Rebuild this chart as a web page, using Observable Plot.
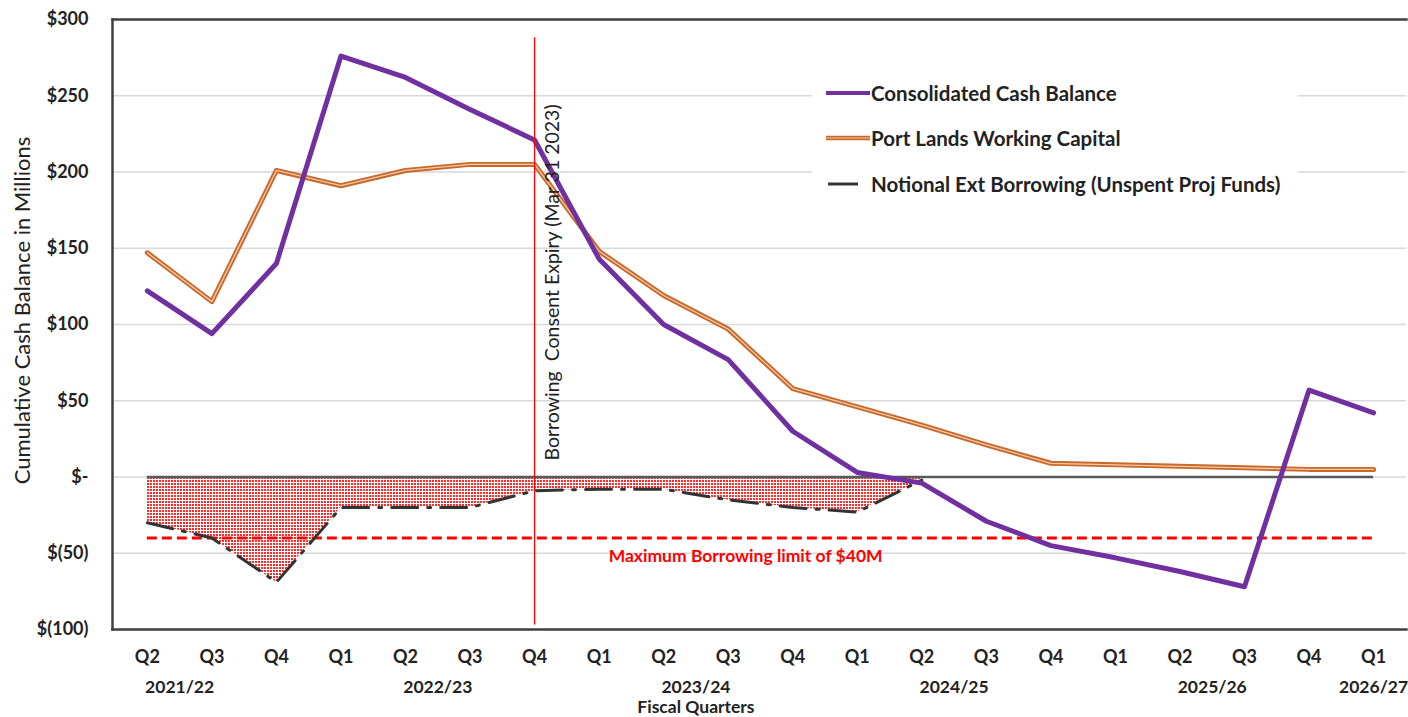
<!DOCTYPE html>
<html>
<head>
<meta charset="utf-8">
<script src="https://cdn.jsdelivr.net/npm/d3@7"></script>
<script src="https://cdn.jsdelivr.net/npm/@observablehq/plot@0.6"></script>
<style>
  html, body { margin: 0; padding: 0; background: #fff; }
  #wrap { position: relative; width: 1408px; height: 717px; font-family: Lato, "Noto Sans", sans-serif; }
  #wrap svg text { white-space: pre; }
  .legend { position: absolute; left: 812px; top: 72px; width: 486px; height: 130px; background: #fff; }
  .item { position: absolute; left: 0; height: 24px; display: flex; align-items: center; font-weight: bold; font-size: 20.5px; color: #222; white-space: nowrap; }
  .swatch { display: inline-block; margin-right: 1px; }
</style>
</head>
<body>
<div id="wrap"></div>
<script>
// ---- data ----
const quarters = ["Q2","Q3","Q4","Q1","Q2","Q3","Q4","Q1","Q2","Q3","Q4","Q1","Q2","Q3","Q4","Q1","Q2","Q3","Q4","Q1"];
const fiscalYears = ["2021/22","2021/22","2021/22",
  "2022/23","2022/23","2022/23","2022/23",
  "2023/24","2023/24","2023/24","2023/24",
  "2024/25","2024/25","2024/25","2024/25",
  "2025/26","2025/26","2025/26","2025/26",
  "2026/27"];
const consolidatedCash = [122, 94, 140, 276, 262, 241, 221, 143, 100, 77, 30, 3, -4, -29, -45, -53, -62, -72, 57, 42];
const portLandsCapital = [147, 115, 201, 191, 201, 205, 205, 148, 119, 97, 58, 46, 34, 21, 9, 8, 7, 6, 5, 5];
const notionalBorrowing = [-30, -40, -69, -20, -20, -20, -9, -8, -8, -15, -20, -23, -2];
const borrowingLimit = -40;
const consentExpiryQuarter = 6; // Q4 2022/23 (Mar 31 2023)
const yTicks = [-100, -50, 0, 50, 100, 150, 200, 250, 300];
const seriesNames = ["Consolidated Cash Balance", "Port Lands Working Capital", "Notional Ext Borrowing (Unspent Proj Funds)"];
const colors = {cash: "#7030A0", port: "#C8682A", portInner: "#F6C9A6", notional: "#333333", limit: "#FF0000"};

// ---- tables ----
const rows = quarters.map((q, i) => ({i, q, fy: fiscalYears[i], cash: consolidatedCash[i], port: portLandsCapital[i]}));
const notRows = notionalBorrowing.map((v, i) => ({i, v}));
const yearRows = [...new Set(fiscalYears)].map(fy => {
  const idx = rows.filter(r => r.fy === fy);
  const q2 = idx.find(r => r.q === "Q2"), q3 = idx.find(r => r.q === "Q3");
  const pos = (q2 && q3) ? (q2.i + q3.i) / 2 : d3.mean(idx, r => r.i);
  return {fy, pos};
});
const fmt = d => d === 0 ? "$-" : d < 0 ? `$(${-d})` : `$${d}`;

const chart = Plot.plot({
  width: 1408,
  height: 717,
  marginTop: 19,
  marginLeft: 112,
  marginRight: 2,
  marginBottom: 88,
  style: {fontFamily: "Lato, 'Noto Sans', sans-serif", fontSize: "16px", color: "#222", background: "#fff"},
  x: {type: "linear", domain: [-0.54, 19.51]},
  y: {domain: [-100, 300]},
  marks: [
    Plot.gridY(yTicks, {stroke: "#d9d9d9", strokeOpacity: 1, strokeWidth: 1.5}),
    Plot.areaY(notRows, {x: "i", y1: 0, y2: "v", fill: "url(#dots)"}),
    Plot.ruleY([0], {x1: 0, x2: quarters.length - 1, stroke: "#595959", strokeWidth: 2.5}),
    Plot.ruleY([borrowingLimit], {x1: 0, x2: quarters.length - 1, stroke: colors.limit, strokeWidth: 3, strokeDasharray: "10,5"}),
    Plot.line(notRows, {x: "i", y: "v", stroke: colors.notional, strokeWidth: 3, strokeDasharray: "26,10,3,10"}),
    Plot.line(rows, {x: "i", y: "port", stroke: colors.port, strokeWidth: 5}),
    Plot.line(rows, {x: "i", y: "port", stroke: colors.portInner, strokeWidth: 1.3}),
    Plot.line(rows, {x: "i", y: "cash", stroke: colors.cash, strokeWidth: 5}),
    Plot.ruleX([consentExpiryQuarter], {y1: -97, y2: 288, stroke: colors.limit, strokeWidth: 1.3}),
    Plot.text(["Borrowing  Consent Expiry (Mar 31 2023)"], {x: consentExpiryQuarter, y: 10.8, dx: 18, rotate: -90, textAnchor: "start", fontSize: 19.5, fill: "#222"}),
    Plot.text(["Maximum Borrowing limit of $40M"], {x: 9.27, y: -52, fill: colors.limit, fontWeight: "bold", fontSize: 17.5}),
    Plot.frame({anchor: "left", stroke: "#404040", strokeWidth: 2.5}),
    Plot.frame({anchor: "top", stroke: "#404040", strokeWidth: 2.5}),
    Plot.frame({anchor: "bottom", stroke: "#404040", strokeWidth: 2.5}),
    Plot.axisY(yTicks, {tickSize: 0, tickPadding: 24, tickFormat: fmt, fontWeight: "bold", fontSize: 18, label: null}),
    Plot.axisX(d3.range(quarters.length), {tickSize: 0, tickPadding: 21, tickFormat: i => quarters[i], fontWeight: "bold", fontSize: 18, label: null}),
    Plot.text(yearRows, {x: "pos", y: -100, dy: 58, text: "fy", fontWeight: "bold", fontSize: 17.5}),
    Plot.text(["Fiscal Quarters"], {x: yearRows.find(d => d.fy === "2023/24").pos, y: -100, dy: 78, fontWeight: "bold", fontSize: 17.5}),
    Plot.text(["Cumulative Cash Balance in Millions"], {frameAnchor: "left", dx: -90, dy: -14, rotate: -90, textAnchor: "middle", fontSize: 22})
  ]
});

// dotted pattern for the borrowing area
d3.select(chart).insert("defs", ":first-child").html(
  `<pattern id="dots" width="3" height="3" patternUnits="userSpaceOnUse">
     <rect width="3" height="3" fill="#fff"/>
     <rect x="0" y="0" width="2" height="2" fill="#ff2a2a"/>
   </pattern>`);

const wrap = document.getElementById("wrap");
wrap.appendChild(chart);

// legend
const legend = document.createElement("div");
legend.className = "legend";
const swatches = [
  `<svg class="swatch" width="46" height="10"><line x1="2" x2="46" y1="5" y2="5" stroke="${colors.cash}" stroke-width="4"/></svg>`,
  `<svg class="swatch" width="46" height="10"><line x1="2" x2="46" y1="5" y2="5" stroke="${colors.port}" stroke-width="4.5"/><line x1="2" x2="46" y1="5" y2="5" stroke="${colors.portInner}" stroke-width="1"/></svg>`,
  `<svg class="swatch" width="46" height="10"><line x1="4" x2="34" y1="5" y2="5" stroke="${colors.notional}" stroke-width="3"/></svg>`
];
const tops = [9, 54, 100];
seriesNames.forEach((name, k) => {
  const it = document.createElement("div");
  it.className = "item";
  it.style.top = tops[k] + "px";
  it.style.left = "12px";
  it.innerHTML = swatches[k] + `<span>${name}</span>`;
  legend.appendChild(it);
});
wrap.appendChild(legend);
</script>
</body>
</html>
